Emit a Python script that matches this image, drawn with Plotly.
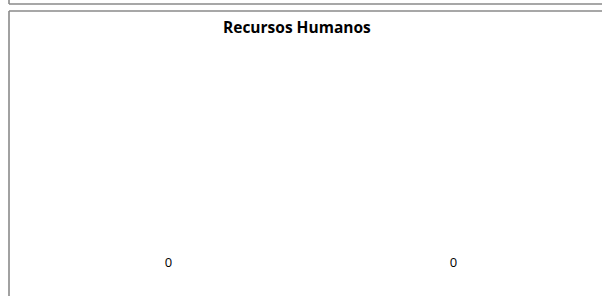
import plotly.graph_objects as go

categories = ["Categoria A", "Categoria B"]
values = [0, 0]
title_text = "Recursos Humanos"

W, H = 602, 296
FONT = "'Open Sans', sans-serif"

fig = go.Figure()
fig.add_trace(go.Scatter(x=categories, y=values, mode="text",
                         text=[str(v) for v in values],
                         textposition="middle center",
                         textfont=dict(family=FONT, size=13, color="#000000"),
                         showlegend=False, hoverinfo="skip"))

def px(x):
    return x / W

def py(y):
    return 1 - y / H

line = dict(color="#8a8a8a", width=1.6)
shapes = [
    # upper (cut-off) box
    dict(type="line", xref="paper", yref="paper", x0=px(9), x1=px(9), y0=py(-5), y1=py(4), line=line),
    dict(type="line", xref="paper", yref="paper", x0=px(9), x1=px(612), y0=py(4), y1=py(4), line=line),
    # chart box
    dict(type="line", xref="paper", yref="paper", x0=px(9), x1=px(9), y0=py(11), y1=py(305), line=line),
    dict(type="line", xref="paper", yref="paper", x0=px(9), x1=px(612), y0=py(11), y1=py(11), line=line),
]

fig.update_layout(
    width=W, height=H,
    margin=dict(l=0, r=0, t=0, b=0),
    paper_bgcolor="white", plot_bgcolor="white",
    shapes=shapes,
    xaxis=dict(domain=[px(26), px(596)], visible=False, range=[-0.5, 1.5]),
    yaxis=dict(domain=[0, 1], visible=False, range=[-(H - 264), 264]),
    annotations=[dict(text="<b>" + title_text + "</b>", xref="paper", yref="paper",
                      x=px(297), y=py(27), xanchor="center", yanchor="middle",
                      showarrow=False, font=dict(family=FONT, size=15.5, color="#000000"))],
)

fig.write_html("out.html", config={"displayModeBar": False},
               post_script="document.body.style.margin='0';document.body.style.overflow='hidden';")
